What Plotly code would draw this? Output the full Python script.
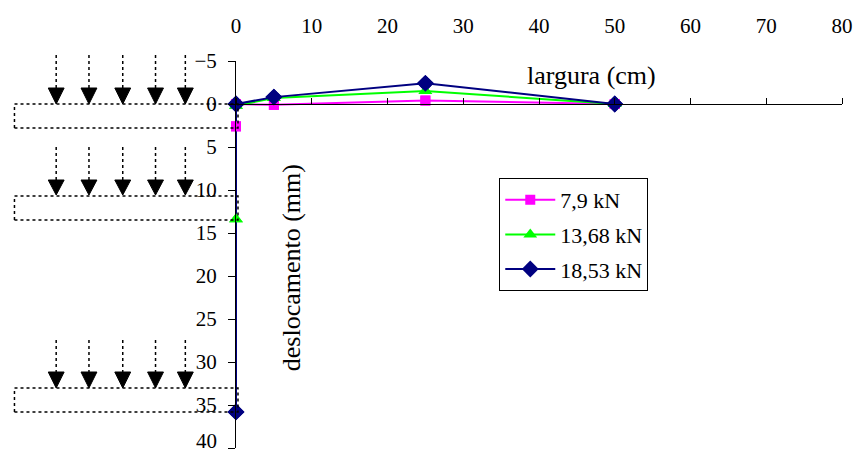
import plotly.graph_objects as go

# ---- data ----
x_pos = [0, 0, 5, 25, 50]                     # largura (cm)
y_79 = [2.6, 0, 0.1, -0.4, 0]                 # 7,9 kN
y_1368 = [13.4, 0.2, -0.7, -1.5, 0]           # 13,68 kN
y_1853 = [35.8, 0, -0.8, -2.4, 0]             # 18,53 kN
series_names = ["7,9 kN", "13,68 kN", "18,53 kN"]
x_ticks = [0, 10, 20, 30, 40, 50, 60, 70, 80]
y_ticks = [-5, 0, 5, 10, 15, 20, 25, 30, 35, 40]

W_FIG, H_FIG = 860, 455
PL, PR, PT, PB = 236, 846, 61, 448
PW = PR - PL
PH = PB - PT

def px(x):
    return (x - PL) / PW

def py(y):
    return (PB - y) / PH

FONT = "Liberation Serif, Times New Roman, serif"
FS_TICK = 21
FS_LEG = 22
FS_TITLE = 26

fig = go.Figure()
styles = [
    dict(color="#FF00FF", symbol="square", size=10),
    dict(color="#00FF00", symbol="triangle-up", size=12),
    dict(color="#000080", symbol="diamond", size=13),
]
series = [y_79, y_1368, y_1853]
for name, ys, st in zip(series_names, series, styles):
    fig.add_trace(go.Scatter(
        x=x_pos, y=ys, name=name, mode="lines+markers",
        line=dict(color=st["color"], width=2),
        marker=dict(color=st["color"], symbol=st["symbol"], size=st["size"]),
        cliponaxis=False, legendgroup=name,
    ))
# markers redrawn above all lines
for name, ys, st in zip(series_names, series, styles):
    fig.add_trace(go.Scatter(
        x=x_pos, y=ys, name=name, mode="markers", showlegend=False,
        marker=dict(color=st["color"], symbol=st["symbol"], size=st["size"]),
        cliponaxis=False, legendgroup=name, hoverinfo="skip",
    ))

fig.add_trace(go.Scatter(x=[None], y=[None], xaxis="x2", showlegend=False, hoverinfo="skip"))

# ---- decorative load arrows and dotted slabs ----
shapes = []
arrow_x = [55, 88, 122, 155, 185]
groups = [  # shaft top, triangle top, tip, rect top, rect bottom (page px)
    (55, 88, 104, 104, 128),
    (147, 180, 195, 196, 220),
    (340, 372, 388, 388, 412),
]
for (s_top, t_top, tip, r_top, r_bot) in groups:
    for ax in arrow_x:
        shapes.append(dict(type="line", xref="paper", yref="paper",
                           x0=px(ax), x1=px(ax), y0=py(s_top), y1=py(t_top),
                           line=dict(color="black", width=1.5, dash="dot")))
        path = "M {} {} L {} {} L {} {} Z".format(
            px(ax - 8), py(t_top), px(ax + 8), py(t_top), px(ax), py(tip))
        shapes.append(dict(type="path", xref="paper", yref="paper", path=path,
                           fillcolor="black", line=dict(color="black", width=1)))
    shapes.append(dict(type="rect", xref="paper", yref="paper",
                       x0=px(13), x1=px(238), y0=py(r_bot), y1=py(r_top),
                       line=dict(color="black", width=1.5, dash="dot")))

fig.update_layout(
    width=W_FIG, height=H_FIG,
    margin=dict(l=PL, r=W_FIG - PR, t=PT, b=H_FIG - PB, pad=0),
    paper_bgcolor="white", plot_bgcolor="white",
    font=dict(family=FONT, size=FS_TICK, color="black"),
    showlegend=True,
    legend=dict(x=px(501), y=py(178), xanchor="left", yanchor="top",
                bordercolor="black", borderwidth=1, bgcolor="white",
                font=dict(family=FONT, size=FS_LEG), tracegroupgap=3,
                itemwidth=50),
    xaxis=dict(range=[0, 80], side="top", showgrid=False, zeroline=False,
               showline=False, tickvals=x_ticks, ticks="outside", ticklen=19,
               tickcolor="rgba(0,0,0,0)",
               tickfont=dict(family=FONT, size=FS_TICK)),
    xaxis2=dict(range=[0, 80], overlaying="x", anchor="free", position=40 / 45,
                side="top", showgrid=False, zeroline=False, showline=True,
                linecolor="black", linewidth=1, tickvals=x_ticks, ticks="outside",
                ticklen=6, tickcolor="black", showticklabels=False),
    yaxis=dict(range=[40, -5], showgrid=False, zeroline=False, showline=True,
               linecolor="black", linewidth=1, tickvals=y_ticks, ticks="outside",
               ticklen=7, tickcolor="black", ticklabelstandoff=7,
               tickfont=dict(family=FONT, size=FS_TICK)),
    shapes=shapes,
    annotations=[
        dict(text="largura (cm)", xref="paper", yref="paper", x=px(661), y=py(59),
             showarrow=False, font=dict(family=FONT, size=FS_TITLE)),
        dict(text="deslocamento (mm)", xref="paper", yref="paper", x=px(275), y=py(268),
             showarrow=False, textangle=-90, font=dict(family=FONT, size=FS_TITLE)),
        # last y tick label, kept inside the page (the axis hides it past the div)
        dict(text=str(y_ticks[-1]), xref="paper", yref="paper", x=px(219), y=py(455),
             xanchor="right", yanchor="bottom", showarrow=False,
             font=dict(family=FONT, size=FS_TICK)),
    ],
)

fig.write_html("out.html", config={"displayModeBar": False},
               post_script="document.body.style.margin='0px';")
